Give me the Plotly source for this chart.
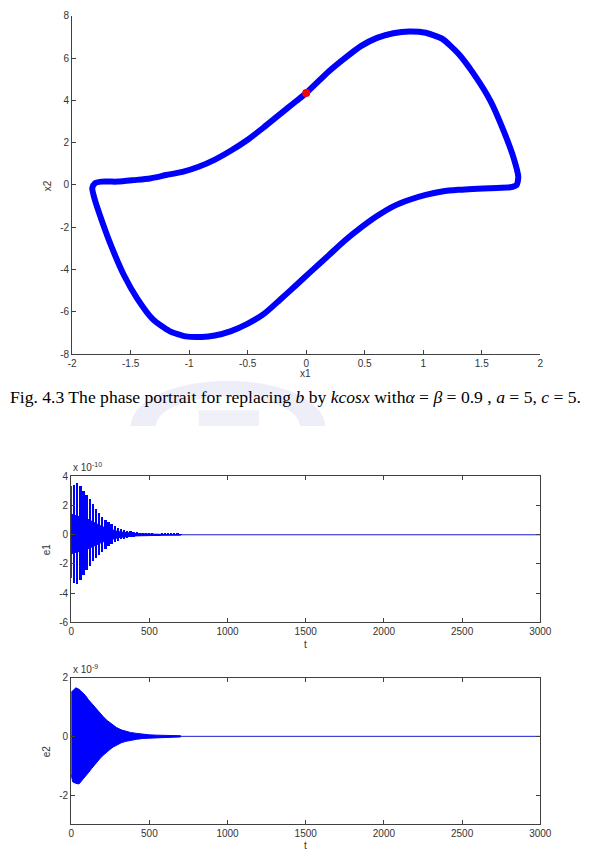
import math
import plotly.graph_objects as go

W, H = 599, 866

# ---------------- data: phase portrait ----------------
x1 = [-1.806, -1.750, -1.612, -1.473, -1.335, -1.196, -1.057, -0.919, -0.780, -0.642, -0.503, -0.364,
      -0.226, -0.087, 0.000, 0.190, 0.328, 0.467, 0.605, 0.744, 0.883, 1.021, 1.160, 1.299, 1.437,
      1.576, 1.687, 1.770, 1.812, 1.798, 1.742, 1.576, 1.299, 1.160, 1.021, 0.883, 0.744, 0.605,
      0.467, 0.328, 0.190, 0.051, -0.087, -0.226, -0.364, -0.503, -0.642, -0.781, -0.891, -1.030,
      -1.168, -1.307, -1.445, -1.557, -1.667, -1.750, -1.806, -1.828, -1.806]
x2 = [0.08, 0.16, 0.16, 0.23, 0.31, 0.47, 0.62, 0.86, 1.20, 1.63, 2.13, 2.72,
      3.34, 3.96, 4.35, 5.36, 5.99, 6.57, 6.96, 7.18, 7.26, 7.20, 6.92, 6.22, 5.21,
      3.96, 2.56, 1.32, 0.39, 0.00, -0.11, -0.15, -0.23, -0.31, -0.47, -0.70, -1.01, -1.47,
      -2.02, -2.64, -3.34, -4.04, -4.74, -5.44, -6.11, -6.57, -6.91, -7.12, -7.19, -7.16,
      -6.91, -6.37, -5.36, -4.27, -2.87, -1.63, -0.70, -0.15, 0.08]
dot_x1 = [0.0]
dot_x2 = [4.35]

x1_ticks = [-2, -1.5, -1, -0.5, 0, 0.5, 1, 1.5, 2]
x1_text = ["-2", "-1.5", "-1", "-0.5", "0", "0.5", "1", "1.5", "2"]
x2_ticks = [-8, -6, -4, -2, 0, 2, 4, 6, 8]
x2_text = ["-8", "-6", "-4", "-2", "0", "2", "4", "6", "8"]

# ---------------- data: error signals ----------------
t_ticks = [0, 500, 1000, 1500, 2000, 2500, 3000]
t_text = ["0", "500", "1000", "1500", "2000", "2500", "3000"]
e1_ticks = [-6, -4, -2, 0, 2, 4]
e1_text = ["-6", "-4", "-2", "0", "2", "4"]
e2_ticks = [-2, 0, 2]
e2_text = ["-2", "0", "2"]

# e1 (x 1e-10): oscillation peaks
e1_t = [0, 20, 40, 60, 80, 100, 120, 140, 160, 180, 200, 220, 240, 260, 280, 300, 320, 340, 360,
        380, 400, 420, 440, 460, 480, 500, 520, 540, 560, 580, 600, 620, 640, 660, 680, 700]
e1_hi = [3.3, 3.4, 3.5, 3.3, 3.0, 2.7, 2.4, 2.05, 1.75, 1.45, 1.2, 1.0, 0.82, 0.68, 0.55, 0.45, 0.37,
         0.3, 0.25, 0.2, 0.17, 0.14, 0.12, 0.11, 0.09, 0.08, 0.07, 0.06, 0.06, 0.05, 0.05, 0.04, 0.04,
         0.03, 0.03, 0.02]
e1_lo = [-3.0, -3.3, -3.4, -3.1, -2.8, -2.45, -2.15, -1.85, -1.6, -1.4, -1.2, -1.0, -0.82, -0.66,
         -0.53, -0.43, -0.35, -0.29, -0.23, -0.19, -0.16, -0.13, -0.11, -0.1, -0.08, -0.07, -0.06,
         -0.05, -0.05, -0.04, -0.04, -0.03, -0.03, -0.03, -0.02, -0.02]
# e1 solid core band
e1_core_t = [0, 100, 200, 300, 400, 500, 600, 700]
e1_core_hi = [1.4, 1.1, 0.55, 0.22, 0.09, 0.05, 0.03, 0.015]
e1_core_lo = [-1.3, -1.0, -0.5, -0.2, -0.08, -0.04, -0.03, -0.015]

# e2 (x 1e-9): envelope
e2_t = [0, 10, 30, 50, 70, 90, 110, 130, 150, 170, 190, 210, 230, 250, 270, 290, 320, 350, 380,
        420, 460, 500, 550, 600, 650, 700]
e2_hi = [1.5, 1.55, 1.65, 1.6, 1.5, 1.4, 1.25, 1.12, 1.0, 0.86, 0.74, 0.64, 0.54, 0.45, 0.37, 0.3,
         0.22, 0.17, 0.13, 0.1, 0.07, 0.05, 0.04, 0.03, 0.025, 0.02]
e2_lo = [-1.3, -1.55, -1.6, -1.62, -1.5, -1.38, -1.24, -1.1, -0.98, -0.84, -0.72, -0.62, -0.52,
         -0.44, -0.36, -0.29, -0.22, -0.17, -0.13, -0.1, -0.07, -0.05, -0.04, -0.03, -0.025, -0.02]

t_line = [0, 3000]
zero_line = [0, 0]


def px(v):
    return v / W


def py(v):
    return 1 - v / H


FONT = "Liberation Sans, Arial, sans-serif"
AX = "#404040"
TXT = "#333333"

fig = go.Figure()

# Phase portrait
fig.add_trace(go.Scatter(x=x1, y=x2, mode="lines",
                         line=dict(color="#0000ff", width=6, shape="spline", smoothing=0.6),
                         xaxis="x", yaxis="y", showlegend=False, hoverinfo="skip"))
fig.add_trace(go.Scatter(x=dot_x1, y=dot_x2, mode="markers", marker=dict(color="#ff0000", size=8),
                         xaxis="x", yaxis="y", showlegend=False))

# e1
fig.add_trace(go.Scatter(x=t_line, y=zero_line, mode="lines", line=dict(color="#1a1acc", width=1),
                         xaxis="x2", yaxis="y2", showlegend=False))
fig.add_trace(go.Scatter(x=e1_core_t + e1_core_t[::-1], y=e1_core_hi + e1_core_lo[::-1],
                         mode="lines", fill="toself", fillcolor="#0000ff",
                         line=dict(color="#0000ff", width=1), xaxis="x2", yaxis="y2", showlegend=False))
fig.add_trace(go.Bar(x=e1_t, y=[h - l for h, l in zip(e1_hi, e1_lo)], base=e1_lo, width=15,
                     marker=dict(color="#0000ff", line=dict(width=0)),
                     xaxis="x2", yaxis="y2", showlegend=False))

# e2
fig.add_trace(go.Scatter(x=t_line, y=zero_line, mode="lines", line=dict(color="#1a1acc", width=1),
                         xaxis="x3", yaxis="y3", showlegend=False))
fig.add_trace(go.Scatter(x=e2_t + e2_t[::-1], y=e2_hi + e2_lo[::-1], mode="lines", fill="toself",
                         fillcolor="#0000ff", line=dict(color="#0000ff", width=1),
                         xaxis="x3", yaxis="y3", showlegend=False))

axis_common = dict(showgrid=False, zeroline=False, ticks="inside", ticklen=4, tickcolor=AX,
                   linecolor=AX, linewidth=1, showline=True,
                   tickfont=dict(family=FONT, size=10, color=TXT))

# faint watermark emblem behind the caption (decorative)
cx, cy = 230, 426
ring = []
for k in range(0, 19):
    a = math.pi * k / 18
    ring.append((cx - 100 * math.cos(a), cy - 46 * math.sin(a)))
for k in range(18, -1, -1):
    a = math.pi * k / 18
    ring.append((cx - 74 * math.cos(a), cy - 30 * math.sin(a)))
path = "M " + " L ".join(f"{px(u):.4f},{py(v):.4f}" for u, v in ring) + " Z"
shapes = [
    dict(type="path", path=path, xref="paper", yref="paper", fillcolor="#eeeef8",
         line=dict(width=0), layer="below"),
    dict(type="rect", xref="paper", yref="paper", x0=px(200), x1=px(262), y0=py(426), y1=py(410),
         fillcolor="#f0f0f8", line=dict(width=0), layer="below"),
]

fig.update_layout(
    width=W, height=H, autosize=False, margin=dict(l=0, r=0, t=0, b=0, pad=0),
    paper_bgcolor="white", plot_bgcolor="white", bargap=0, shapes=shapes,
    xaxis=dict(domain=[px(70), px(551)], range=[-2, 2], tickvals=x1_ticks, ticktext=x1_text,
               anchor="y", **axis_common),
    yaxis=dict(domain=[py(353), py(10)], range=[-8, 8], tickvals=x2_ticks, ticktext=x2_text,
               anchor="x", **axis_common),
    xaxis2=dict(domain=[px(69), px(551)], range=[0, 3000], tickvals=t_ticks, ticktext=t_text,
                anchor="y2", mirror="ticks", **axis_common),
    yaxis2=dict(domain=[py(625), py(477)], range=[-6, 4], tickvals=e1_ticks, ticktext=e1_text,
                anchor="x2", mirror="ticks", **axis_common),
    xaxis3=dict(domain=[px(69), px(551)], range=[0, 3000], tickvals=t_ticks, ticktext=t_text,
                anchor="y3", mirror="ticks", **axis_common),
    yaxis3=dict(domain=[py(830), py(681)], range=[-3, 2], tickvals=e2_ticks, ticktext=e2_text,
                anchor="x3", mirror="ticks", **axis_common),
)

lab = dict(family=FONT, size=10, color=TXT)
ann = [
    dict(x=px(310), y=py(373), text="x1", font=lab),
    dict(x=px(45), y=py(182), text="x2", font=lab, textangle=-90),
    dict(x=px(44), y=py(551), text="e1", font=lab, textangle=-90),
    dict(x=px(310), y=py(647), text="t", font=lab),
    dict(x=px(44), y=py(756), text="e2", font=lab, textangle=-90),
    dict(x=px(310), y=py(851), text="t", font=lab),
    dict(x=px(69), y=py(467), text="x 10<sup>-10</sup>", font=lab, xanchor="left"),
    dict(x=px(69), y=py(672), text="x 10<sup>-9</sup>", font=lab, xanchor="left"),
    dict(x=px(300), y=py(397),
         text="Fig. 4.3 The phase portrait for replacing <i>b</i> by <i>kcosx</i> with<i>α</i> = <i>β</i> = 0.9 , <i>a</i> = 5, <i>c</i> = 5.",
         font=dict(family="Liberation Serif, Times New Roman, serif", size=17.6, color="#000000")),
]
for a in ann:
    a.setdefault("xanchor", "center")
    a.update(xref="paper", yref="paper", yanchor="middle", showarrow=False)
fig.update_layout(annotations=ann)

post = ("document.documentElement.style.margin='0';document.documentElement.style.overflow='hidden';"
        "document.body.style.margin='0';document.body.style.overflow='hidden';")
fig.write_html("out.html", config={"responsive": False}, post_script=post)
